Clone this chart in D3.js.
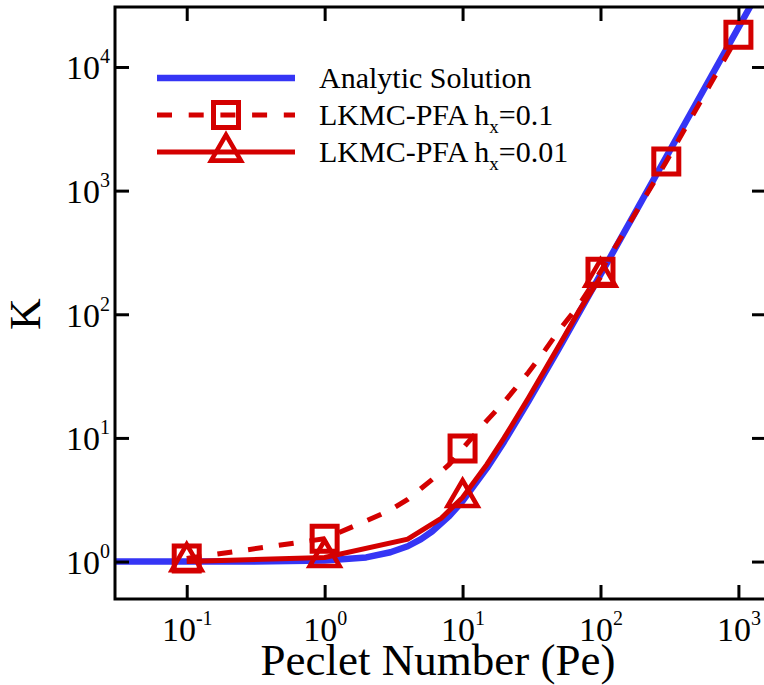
<!DOCTYPE html>
<html>
<head>
<meta charset="utf-8">
<script src="https://cdn.jsdelivr.net/npm/d3@7"></script>
<style>
  body { margin: 0; background: #fff; }
  svg { display: block; }
</style>
</head>
<body>
<svg id="chart" width="764" height="685"></svg>
<script>
// ---- data ----
const xTickValues = [0.1, 1, 10, 100, 1000];
const xTickExponents = ["-1", "0", "1", "2", "3"];
const yTickValues = [1, 10, 100, 1000, 10000];
const yTickExponents = ["0", "1", "2", "3", "4"];

// Analytic solution
const analyticPe = [0.03, 0.1, 0.3, 1, 2, 3, 4, 5, 6, 8, 10, 15, 20, 30, 50, 70, 100, 200, 300, 500, 1000, 1600];
const analyticK  = [1, 1, 1, 1.02, 1.08, 1.19, 1.33, 1.52, 1.75, 2.33, 3.08, 5.69, 9.33, 19.8, 53.1, 103, 209, 834, 1876, 5210, 20800, 53300];

// LKMC-PFA, hx = 0.1 (dashed curve and square markers)
const coarsePe = [0.1, 1, 2, 3, 4, 5, 6, 8, 10, 15, 20, 30, 40, 50, 70, 100, 300, 1000];
const coarseK  = [1.06, 1.53, 2.13, 2.61, 3.18, 3.9, 4.6, 6.1, 8.2, 13.8, 19.5, 33.8, 52, 74, 119, 221, 1718, 18200];
const coarseMarkerPe = [0.1, 1, 10, 100, 300, 1000];
const coarseMarkerK  = [1.06, 1.53, 8.2, 221, 1718, 18200];

// LKMC-PFA, hx = 0.01 (solid curve and triangle markers)
const finePe = [0.1, 1, 4, 7, 10, 15, 20, 30, 40, 55, 70, 100];
const fineK  = [1.0, 1.08, 1.52, 2.24, 3.3, 6.1, 10.0, 21.0, 36.4, 67, 107, 200];
const fineMarkerPe = [0.1, 1, 10, 100];
const fineMarkerK  = [1.0, 1.08, 3.3, 200];

const xDomain = [0.0302, 1585];
const yDomain = [0.498, 30550];

const legendLabels = [
  ["Analytic Solution"],
  ["LKMC-PFA h", "x", "=0.1"],
  ["LKMC-PFA h", "x", "=0.01"]
];

// ---- layout ----
const BLUE = "#3535f5";
const RED = "#d40000";
const FONT = "'Liberation Serif', 'Times New Roman', serif";
const plotLeft = 115, plotRight = 766, plotTop = 7, plotBottom = 599;

const svg = d3.select("#chart");
const x = d3.scaleLog().domain(xDomain).range([plotLeft, plotRight]);
const y = d3.scaleLog().domain(yDomain).range([plotBottom, plotTop]);

svg.append("defs").append("clipPath").attr("id", "plotClip")
  .append("rect").attr("x", plotLeft).attr("y", plotTop)
  .attr("width", plotRight - plotLeft).attr("height", plotBottom - plotTop);

const plot = svg.append("g").attr("clip-path", "url(#plotClip)");

const line = d3.line().x(d => x(d[0])).y(d => y(d[1]));

// analytic curve
plot.append("path")
  .datum(d3.zip(analyticPe, analyticK))
  .attr("d", line)
  .attr("fill", "none").attr("stroke", BLUE).attr("stroke-width", 6.5)
  .attr("stroke-linejoin", "round");

// hx = 0.1 dashed curve
plot.append("path")
  .datum(d3.zip(coarsePe, coarseK))
  .attr("d", line)
  .attr("fill", "none").attr("stroke", RED).attr("stroke-width", 5)
  .attr("stroke-dasharray", "15,16");

// hx = 0.01 solid curve
plot.append("path")
  .datum(d3.zip(finePe, fineK))
  .attr("d", line)
  .attr("fill", "none").attr("stroke", RED).attr("stroke-width", 5)
  .attr("stroke-linejoin", "miter");

// marker shapes
const squarePath = s => `M${-s},${-s}H${s}V${s}H${-s}Z`;
const trianglePath = a => `M0,${-2 * a}L${Math.sqrt(3) * a},${a}L${-Math.sqrt(3) * a},${a}Z`;

plot.selectAll(".sq").data(d3.zip(coarseMarkerPe, coarseMarkerK)).join("path")
  .attr("class", "sq")
  .attr("transform", d => `translate(${x(d[0])},${y(d[1])})`)
  .attr("d", squarePath(12.5))
  .attr("fill", "none").attr("stroke", RED).attr("stroke-width", 5);

plot.selectAll(".tri").data(d3.zip(fineMarkerPe, fineMarkerK)).join("path")
  .attr("class", "tri")
  .attr("transform", d => `translate(${x(d[0])},${y(d[1])})`)
  .attr("d", trianglePath(8.6))
  .attr("fill", "none").attr("stroke", RED).attr("stroke-width", 4.6)
  .attr("stroke-linejoin", "miter");

// ---- axes ----
const tickLen = 14;
function styleAxis(g) {
  g.select(".domain").remove();
  g.selectAll(".tick line").attr("stroke", "#000").attr("stroke-width", 3);
}

svg.append("g").attr("transform", `translate(0,${plotBottom})`)
  .call(d3.axisBottom(x).tickValues(xTickValues).tickSizeInner(-tickLen).tickSizeOuter(0).tickPadding(0))
  .call(styleAxis)
  .call(g => g.selectAll(".tick text").each(function (d, i) {
    const t = d3.select(this).text(null)
      .attr("y", 42).attr("dy", null)
      .attr("font-family", FONT).attr("font-size", 34).attr("fill", "#000")
      .attr("text-anchor", "middle");
    t.append("tspan").text("10");
    t.append("tspan").attr("font-size", 20).attr("dy", -16).text(xTickExponents[i]);
  }));

svg.append("g").attr("transform", `translate(0,${plotTop})`)
  .call(d3.axisTop(x).tickValues(xTickValues).tickSizeInner(-tickLen).tickSizeOuter(0).tickFormat(""))
  .call(styleAxis);

svg.append("g").attr("transform", `translate(${plotLeft},0)`)
  .call(d3.axisLeft(y).tickValues(yTickValues).tickSizeInner(-tickLen).tickSizeOuter(0).tickPadding(0))
  .call(styleAxis)
  .call(g => g.selectAll(".tick text").each(function (d, i) {
    const t = d3.select(this).text(null)
      .attr("x", -5).attr("y", 12).attr("dy", null)
      .attr("font-family", FONT).attr("font-size", 34).attr("fill", "#000")
      .attr("text-anchor", "end");
    t.append("tspan").text("10");
    t.append("tspan").attr("font-size", 20).attr("dy", -16).text(yTickExponents[i]);
  }));

svg.append("g").attr("transform", `translate(${plotRight},0)`)
  .call(d3.axisRight(y).tickValues(yTickValues).tickSizeInner(-tickLen).tickSizeOuter(0).tickFormat(""))
  .call(styleAxis);

// frame
svg.append("rect")
  .attr("x", plotLeft).attr("y", plotTop)
  .attr("width", plotRight - plotLeft).attr("height", plotBottom - plotTop)
  .attr("fill", "none").attr("stroke", "#000").attr("stroke-width", 3);

// axis titles
svg.append("text")
  .attr("x", 438).attr("y", 675)
  .attr("text-anchor", "middle")
  .attr("font-family", FONT).attr("font-size", 45)
  .text("Peclet Number (Pe)");

svg.append("text")
  .attr("transform", "translate(40,314) rotate(-90)")
  .attr("text-anchor", "middle")
  .attr("font-family", FONT).attr("font-size", 44)
  .text("K");

// ---- legend ----
const legendRowY = [78, 115, 152];
const legend = svg.append("g");
const lx0 = 157, lx1 = 295, lmx = 226, ltx = 319;

legend.append("line").attr("x1", lx0).attr("x2", lx1)
  .attr("y1", legendRowY[0]).attr("y2", legendRowY[0])
  .attr("stroke", BLUE).attr("stroke-width", 6.5);

legend.append("line").attr("x1", lx0).attr("x2", lx1)
  .attr("y1", legendRowY[1]).attr("y2", legendRowY[1])
  .attr("stroke", RED).attr("stroke-width", 5).attr("stroke-dasharray", "15,16.7");
legend.append("path").attr("transform", `translate(${lmx},${legendRowY[1]})`)
  .attr("d", squarePath(12.5))
  .attr("fill", "none").attr("stroke", RED).attr("stroke-width", 5);

legend.append("line").attr("x1", lx0).attr("x2", lx1)
  .attr("y1", legendRowY[2]).attr("y2", legendRowY[2])
  .attr("stroke", RED).attr("stroke-width", 5);
legend.append("path").attr("transform", `translate(${lmx},${legendRowY[2]})`)
  .attr("d", trianglePath(8.6))
  .attr("fill", "none").attr("stroke", RED).attr("stroke-width", 4.6);

legendLabels.forEach((parts, i) => {
  const t = legend.append("text")
    .attr("x", ltx).attr("y", legendRowY[i] + 10)
    .attr("font-family", FONT).attr("font-size", 30).attr("fill", "#000");
  t.append("tspan").text(parts[0]);
  if (parts.length > 1) {
    t.append("tspan").attr("font-size", 19).attr("dy", 8).text(parts[1]);
    t.append("tspan").attr("dy", -8).text(parts[2]);
  }
});
</script>
</body>
</html>
